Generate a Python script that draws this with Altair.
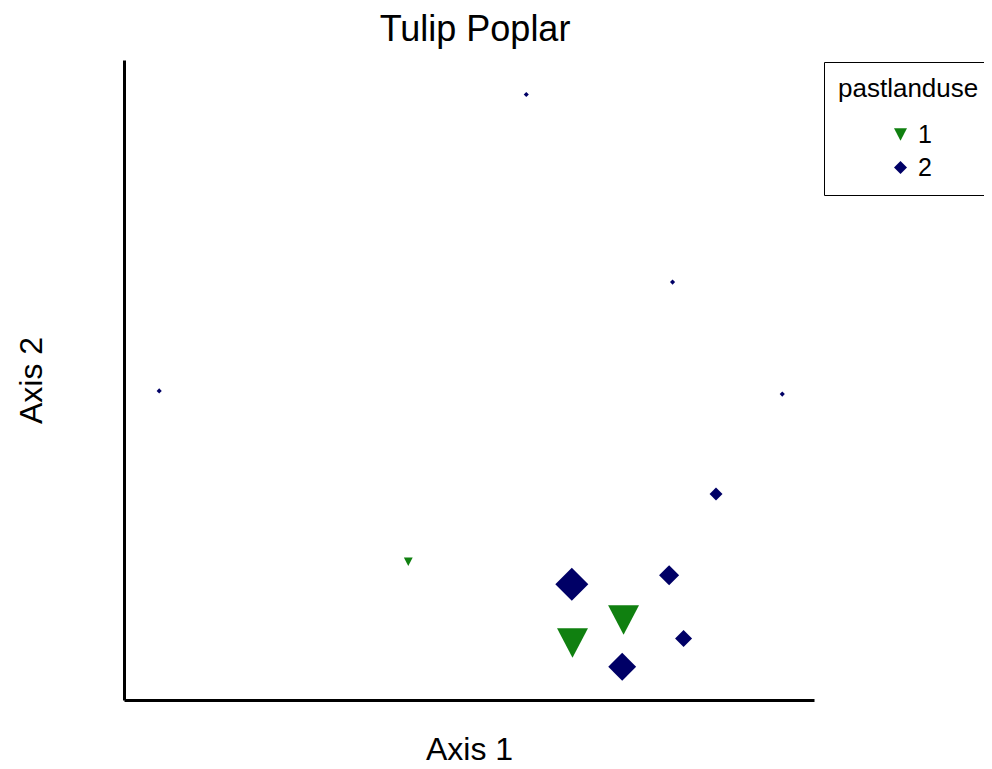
import altair as alt
import pandas as pd

# values (arbitrary ordination units)
axis1 = [58.3, 5.1, 79.5, 95.4, 85.8, 41.2, 64.9, 79.0, 72.4, 65.0, 81.1, 72.2]
axis2 = [94.6, 48.3, 65.3, 47.8, 32.2, 21.6, 18.1, 19.5, 12.5, 8.9, 9.6, 5.2]
landuse = ["2", "2", "2", "2", "2", "1", "2", "2", "1", "1", "2", "2"]
abundance = [1.5, 1.5, 1.5, 1.5, 3.8, 2.6, 9.7, 5.9, 9.1, 9.1, 5.0, 8.2]

categories = ["1", "2"]
colors = ["#108010", "#000066"]
TRI = "M-1,-0.95L1,-0.95L0,0.95Z"
shapes = [TRI, "diamond"]

df = pd.DataFrame({
    "axis1": axis1,
    "axis2": axis2,
    "pastlanduse": landuse,
    "abundance": abundance,
})

legend = alt.Legend(
    title="pastlanduse",
    orient="none",
    legendX=700,
    legendY=2,
    strokeColor="black",
    fillColor="white",
    padding=14,
    titleFontSize=26,
    titleFontWeight="normal",
    titleColor="black",
    titlePadding=20,
    labelFontSize=25,
    labelColor="black",
    symbolSize=169,
    symbolOffset=50,
    labelOffset=5,
    rowPadding=7,
    symbolStrokeWidth=0,
)

axis_common = dict(labels=False, ticks=False, grid=False, domainColor="black",
                   domainWidth=3, titleFontSize=32, titleFontWeight="normal",
                   titleColor="black")

chart = alt.Chart(df).mark_point(filled=True, opacity=1, strokeWidth=0).encode(
    x=alt.X("axis1:Q",
            scale=alt.Scale(domain=[0, 100], nice=False, zero=False),
            axis=alt.Axis(title="Axis 1", titlePadding=34, **axis_common)),
    y=alt.Y("axis2:Q",
            scale=alt.Scale(domain=[0, 100], nice=False, zero=False),
            axis=alt.Axis(title="Axis 2", titlePadding=76, **axis_common)),
    color=alt.Color("pastlanduse:N",
                    scale=alt.Scale(domain=categories, range=colors),
                    legend=legend),
    shape=alt.Shape("pastlanduse:N",
                    scale=alt.Scale(domain=categories, range=shapes),
                    legend=legend),
    size=alt.Size("abundance:Q",
                  scale=alt.Scale(type="pow", exponent=2, domain=[0, 10],
                                  range=[0, 1156]),
                  legend=None),
).properties(
    width=690,
    height=640,
    title=alt.Title("Tulip Poplar", fontSize=36, fontWeight="normal",
                    color="black", anchor="middle", dx=6, offset=11),
    autosize="none",
    padding={"left": 116, "top": 52, "right": 170, "bottom": 69},
).configure(
    font="Liberation Sans",
    view=alt.ViewConfig(stroke=None),
)

chart.save("out.html", embed_options={"renderer": "svg", "actions": False})
